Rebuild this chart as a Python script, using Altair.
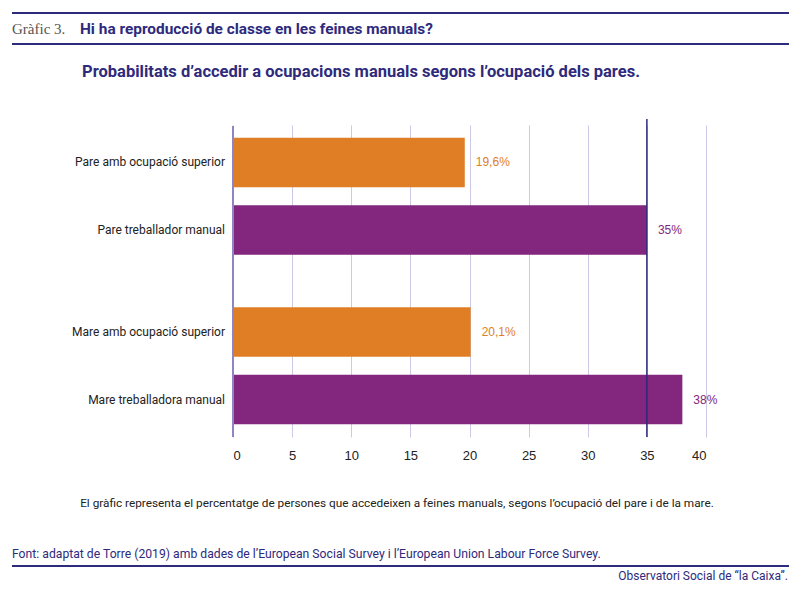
import altair as alt
import pandas as pd

labels = ["Pare amb ocupació superior", "Pare treballador manual",
          "Mare amb ocupació superior", "Mare treballadora manual"]
groups = ["Pare", "Pare", "Mare", "Mare"]
kinds = ["superior", "manual", "superior", "manual"]
values = [19.6, 35, 20.1, 38]
value_text = ["19,6%", "35%", "20,1%", "38%"]
ref_value = 35
x_ticks = [0, 2.5, 5, 7.5, 10, 12.5, 15, 17.5, 20, 22.5, 25, 27.5, 30, 32.5, 35, 37.5, 40]

NAVY = "#2e2a7c"
ORANGE = "#e07e26"
PURPLE = "#82267e"
FONT = "Roboto"

df = pd.DataFrame({"label": labels, "group": groups, "kind": kinds,
                   "value": values, "txt": value_text})

W, H = 473, 312

xscale = alt.Scale(domain=[0, 40], nice=False, zero=True)
yscale = alt.Scale(domain=["Pare", "Mare"], paddingInner=0.31, paddingOuter=0.075)
yoff = alt.YOffset("kind:N", scale=alt.Scale(domain=["superior", "manual"], paddingInner=0.265, paddingOuter=0))
colscale = alt.Scale(domain=["superior", "manual"], range=[ORANGE, PURPLE])

base = alt.Chart(df)

bars = base.mark_bar().encode(
    x=alt.X("value:Q", scale=xscale,
            axis=alt.Axis(values=x_ticks, title=None, grid=True, gridColor="#cdc9e4",
                          gridWidth=1, domain=False, ticks=False,
                          labelExpr="datum.value % 5 == 0 ? datum.label : ''",
                          labelFont="Liberation Sans", labelFontSize=13, labelColor="#222",
                          labelPadding=12)),
    y=alt.Y("group:N", scale=yscale, axis=None),
    yOffset=yoff,
    color=alt.Color("kind:N", scale=colscale, legend=None),
)

vals = base.mark_text(align="left", baseline="middle", dx=11, font="Liberation Sans", fontSize=12).encode(
    x="value:Q",
    y=alt.Y("group:N", scale=yscale, axis=None),
    yOffset=yoff,
    text="txt:N",
    color=alt.Color("kind:N", scale=colscale, legend=None),
)

cats = base.mark_text(align="right", baseline="middle", font="Roboto", fontSize=12, color="#222").encode(
    x=alt.value(-8),
    y=alt.Y("group:N", scale=yscale, axis=None),
    yOffset=yoff,
    text="label:N",
)

one = pd.DataFrame({"a": [0]})
one_c = alt.Chart(one)

axis_line = one_c.mark_rule(color="#8e86c4", strokeWidth=2).encode(
    x=alt.value(0), y=alt.value(1), y2=alt.value(H))

ref_line = one_c.mark_rule(color=NAVY, strokeWidth=1.5).encode(
    x=alt.X("ref:Q", scale=xscale),
    y=alt.value(-6), y2=alt.value(H)).transform_calculate(ref=str(ref_value))

def hrule(y, x1=-221, x2=556):
    return one_c.mark_rule(color=NAVY, strokeWidth=2).encode(
        x=alt.value(x1), x2=alt.value(x2), y=alt.value(y))

def txt(s, x, y, align="left", **kw):
    return one_c.mark_text(text=s, align=align, baseline="middle", **kw).encode(
        x=alt.value(x), y=alt.value(y))

layers = [
    bars, axis_line, ref_line, vals, cats,
    hrule(-112), hrule(-81), hrule(441),
    txt("Gràfic 3.", -221, -96, font="Liberation Serif", fontSize=15, color="#555"),
    txt("Hi ha reproducció de classe en les feines manuals?", -153, -96,
        font=FONT, fontSize=15.4, fontWeight="bold", color=NAVY),
    txt("Probabilitats d\u2019accedir a ocupacions manuals segons l\u2019ocupació dels pares.", 128, -53,
        align="center", font=FONT, fontSize=16.5, fontWeight="bold", color=NAVY),
    txt("El gràfic representa el percentatge de persones que accedeixen a feines manuals, segons l\u2019ocupació del pare i de la mare.",
        164, 378, align="center", font=FONT, fontSize=11.8, color="#222"),
    txt("Font: adaptat de Torre (2019) amb dades de l\u2019European Social Survey i l\u2019European Union Labour Force Survey.",
        -221, 429, font=FONT, fontSize=12.2, color=NAVY),
    txt("Observatori Social de \u201cla Caixa\u201d.", 555, 451, align="right",
        font=FONT, fontSize=12, color=NAVY),
]

chart = alt.layer(*layers).properties(
    width=W, height=H,
    autosize=alt.AutoSizeParams(type="none"),
    padding={"left": 225, "top": 117, "right": 86, "bottom": 146},
).configure(background="white", view=alt.ViewConfig(stroke=None))

chart.save("out.html", embed_options={"renderer": "svg", "actions": False})
